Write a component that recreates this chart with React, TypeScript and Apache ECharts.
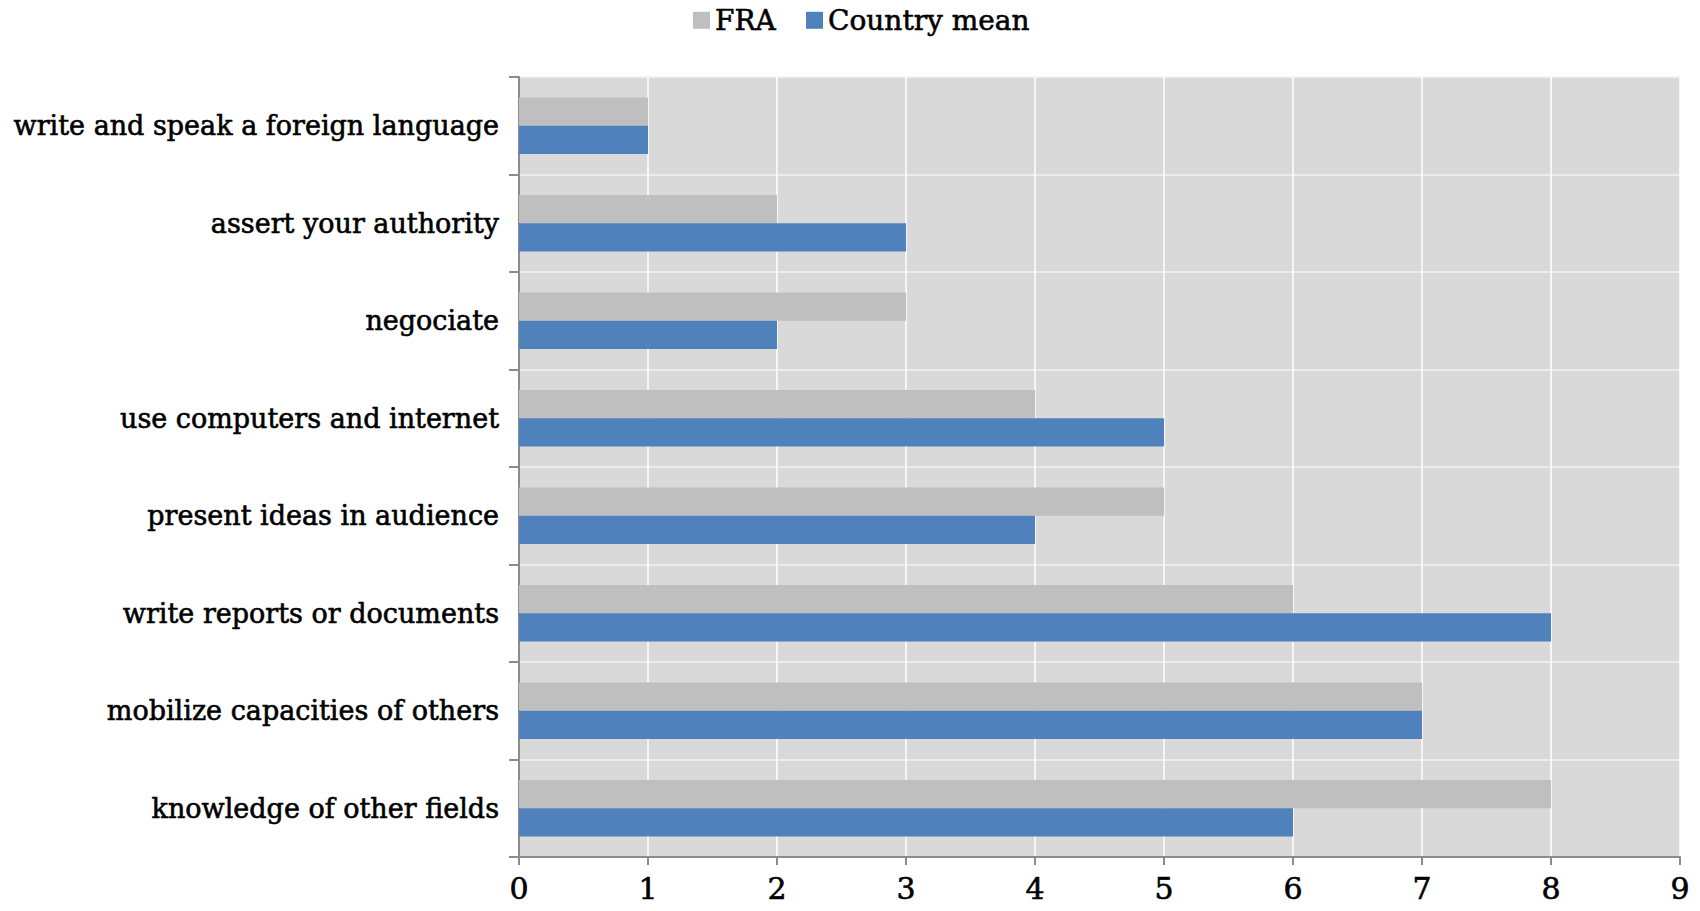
import React, { useEffect, useRef } from "react";
import * as echarts from "echarts";

const categories = [
  "write and speak a foreign language",
  "assert your authority",
  "negociate",
  "use computers and internet",
  "present ideas in audience",
  "write reports or documents",
  "mobilize capacities of others",
  "knowledge of other fields",
];
const fraValues = [1, 2, 3, 4, 5, 6, 7, 8];
const countryMeanValues = [1, 3, 2, 5, 4, 8, 7, 6];
const xTicks = [0, 1, 2, 3, 4, 5, 6, 7, 8, 9];

const FONT = "'DejaVu Serif', serif";
const thick = { textBorderColor: "#000", textBorderWidth: 0.6 };

export default function App() {
  const ref = useRef<HTMLDivElement>(null);
  useEffect(() => {
    if (!ref.current) return;
    const chart = echarts.init(ref.current, undefined, { renderer: "svg" });
    chart.setOption({
      animation: false,
      backgroundColor: "#ffffff",
      legend: {
        top: 1,
        left: 688,
        itemWidth: 17,
        itemHeight: 17,
        itemGap: 30,
        icon: "rect",
        textStyle: { fontFamily: FONT, fontSize: 28, color: "#000", ...thick },
        data: ["FRA", "Country mean"],
      },
      grid: { left: 519, right: 20, top: 77, bottom: 54, containLabel: false, show: true, backgroundColor: "#d9d9d9", borderWidth: 0 },
      xAxis: {
        type: "value",
        min: xTicks[0],
        max: xTicks[xTicks.length - 1],
        interval: 1,
        axisLine: { show: true, lineStyle: { color: "#8c8c8c", width: 2 } },
        axisTick: { show: true, length: 8, lineStyle: { color: "#8c8c8c", width: 2 } },
        splitLine: { show: true, lineStyle: { color: "#ffffff", width: 1.5 } },
        axisLabel: { fontFamily: FONT, fontSize: 30, color: "#000", margin: 16, ...thick },
      },
      yAxis: {
        type: "category",
        inverse: true,
        data: categories,
        axisLine: { show: true, lineStyle: { color: "#8c8c8c", width: 2 } },
        axisTick: { show: true, length: 10, lineStyle: { color: "#8c8c8c", width: 2 } },
        splitLine: { show: true, lineStyle: { color: "#f2f2f2", width: 1.5 } },
        axisLabel: { fontFamily: FONT, fontSize: 27, color: "#000", margin: 20, ...thick },
      },
      series: [
        {
          name: "FRA",
          type: "bar",
          data: fraValues,
          itemStyle: { color: "#bfbfbf" },
          barGap: "0%",
          barCategoryGap: "42%",
        },
        {
          name: "Country mean",
          type: "bar",
          data: countryMeanValues,
          itemStyle: { color: "#4f81bd" },
          barGap: "0%",
          barCategoryGap: "42%",
        },
      ],
    });
    return () => chart.dispose();
  }, []);
  return <div ref={ref} style={{ width: 1700, height: 911, margin: -8 }} />;
}
